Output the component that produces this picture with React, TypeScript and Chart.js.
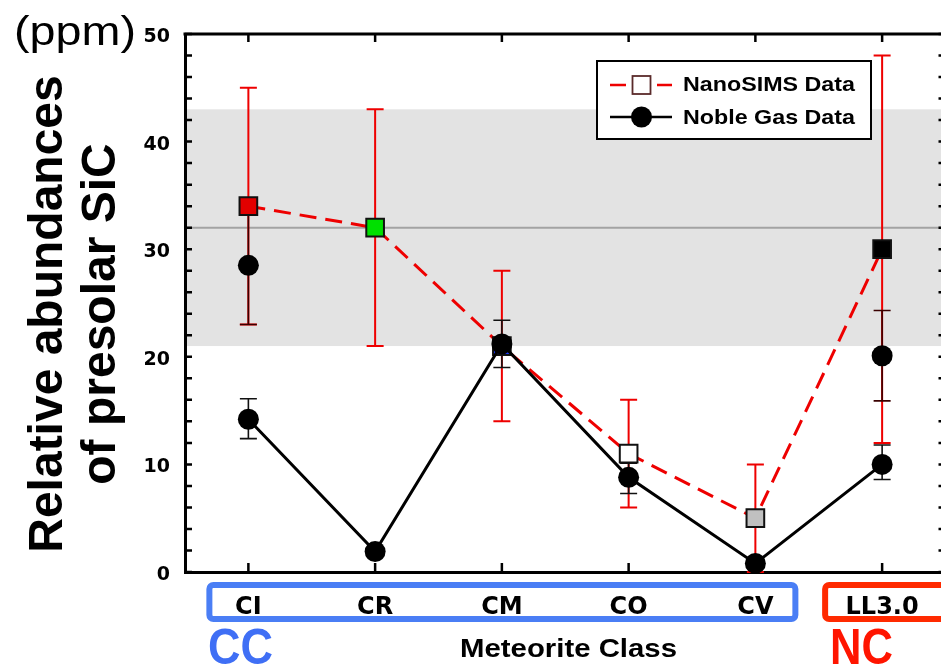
import React, { useEffect, useRef } from 'react';
import { Chart, registerables } from 'chart.js';

Chart.register(...registerables);

// ---- data ----
const categories = ['CI', 'CR', 'CM', 'CO', 'CV', 'LL3.0'];
const nanoValues = [34, 32, 21, 11, 5, 30];
const nanoErrHigh = [45, 43, 28, 16, 10, 48];
const nanoErrLow = [23, 21, 14, 6, 0, 12];
const nanoColors = ['#e30000', '#00e000', '#1e3cff', '#ffffff', '#c0c0c0', '#000000'];
const nobleValues = [14.2, 1.9, 21.2, 8.8, 0.8, 10];
const nobleErrHigh = [16.1, null, 23.4, 10.1, null, 11.8];
const nobleErrLow = [12.4, null, 19.0, 7.3, null, 8.6];
const nobleExtraValues = [28.5, null, null, null, null, 20.1];
const nobleExtraErrHigh = [34, null, null, null, null, 24.3];
const nobleExtraErrLow = [23, null, null, null, null, 15.9];
const bandLow = 21;
const bandHigh = 43;
const bandMean = 32;
const yMin = 0;
const yMax = 50;
const yStep = 10;
const yMinorStep = 2;

const ARIAL = '"Liberation Sans", Arial, Helvetica, sans-serif';
const RED = '#ee0000';

function fitText(ctx: CanvasRenderingContext2D, text: string, x: number, y: number, font: string, width: number, align: string, color: string) {
  ctx.save();
  ctx.font = font;
  ctx.fillStyle = color;
  ctx.textBaseline = 'alphabetic';
  ctx.textAlign = 'left';
  const w = ctx.measureText(text).width;
  const sx = width / w;
  const left = align === 'center' ? x - width / 2 : x;
  ctx.translate(left, y);
  ctx.scale(sx, 1);
  ctx.fillText(text, 0, 0);
  ctx.restore();
}

function drawErr(ctx: CanvasRenderingContext2D, xs: any, ys: any, i: number, hi: number | null, lo: number | null, color: string, lw: number, half: number) {
  if (hi == null || lo == null) return;
  const x = xs.getPixelForValue(i);
  const y1 = ys.getPixelForValue(hi);
  const y2 = ys.getPixelForValue(lo);
  ctx.save();
  ctx.strokeStyle = color;
  ctx.lineWidth = lw;
  ctx.beginPath();
  ctx.moveTo(x, y1);
  ctx.lineTo(x, y2);
  ctx.moveTo(x - half, y1);
  ctx.lineTo(x + half, y1);
  ctx.moveTo(x - half, y2);
  ctx.lineTo(x + half, y2);
  ctx.stroke();
  ctx.restore();
}

const decorPlugin = {
  id: 'decor',
  beforeDraw(chart: any) {
    const { ctx, chartArea, scales } = chart;
    const ys = scales.y;
    ctx.save();
    ctx.fillStyle = '#e3e3e3';
    const t = ys.getPixelForValue(bandHigh);
    const b = ys.getPixelForValue(bandLow);
    ctx.fillRect(chartArea.left, t, chartArea.right - chartArea.left, b - t);
    ctx.strokeStyle = '#a3a3a3';
    ctx.lineWidth = 2;
    const m = ys.getPixelForValue(bandMean);
    ctx.beginPath();
    ctx.moveTo(chartArea.left, m);
    ctx.lineTo(chartArea.right, m);
    ctx.stroke();
    ctx.restore();
  },
  beforeDatasetsDraw(chart: any) {
    const { ctx, scales } = chart;
    const xs = scales.x;
    const ys = scales.y;
    for (let i = 0; i < categories.length; i++) {
      drawErr(ctx, xs, ys, i, nanoErrHigh[i], nanoErrLow[i], RED, 2, 8.5);
    }
    for (let i = 0; i < categories.length; i++) {
      drawErr(ctx, xs, ys, i, nobleErrHigh[i], nobleErrLow[i], '#111', 1.6, 8.5);
      drawErr(ctx, xs, ys, i, nobleExtraErrHigh[i], nobleExtraErrLow[i], '#3a0000', 1.6, 8.5);
    }
  },
  afterDraw(chart: any) {
    const { ctx, chartArea, scales } = chart;
    const xs = scales.x;
    const ys = scales.y;
    ctx.save();
    // frame top and right
    ctx.strokeStyle = '#000';
    ctx.lineWidth = 3;
    ctx.beginPath();
    ctx.moveTo(chartArea.left - 1.5, chartArea.top);
    ctx.lineTo(chartArea.right, chartArea.top);
    ctx.lineTo(chartArea.right, chartArea.bottom);
    ctx.stroke();
    // inner ticks
    ctx.lineWidth = 2.5;
    ctx.beginPath();
    for (let v = yMin; v <= yMax; v += yMinorStep) {
      const y = ys.getPixelForValue(v);
      ctx.moveTo(chartArea.left, y);
      ctx.lineTo(chartArea.left + 7, y);
      ctx.moveTo(chartArea.right, y);
      ctx.lineTo(chartArea.right - 7, y);
    }
    for (let i = 0; i < categories.length; i++) {
      const x = xs.getPixelForValue(i);
      ctx.moveTo(x, chartArea.bottom);
      ctx.lineTo(x, chartArea.bottom - 9);
      ctx.moveTo(x, chartArea.top);
      ctx.lineTo(x, chartArea.top + 8);
    }
    ctx.stroke();

    // category boxes
    ctx.lineWidth = 6;
    ctx.strokeStyle = '#4a7ef5';
    const bl = xs.getPixelForValue(0) - 39;
    const br = xs.getPixelForValue(4) + 40;
    ctx.beginPath();
    ctx.roundRect(bl, 585, br - bl, 34, 4);
    ctx.stroke();
    ctx.strokeStyle = '#ff2a00';
    const rl = xs.getPixelForValue(5) - 57;
    ctx.beginPath();
    ctx.roundRect(rl, 585, 160, 34, 4);
    ctx.stroke();

    // texts
    fitText(ctx, 'CC', 208, 664, 'bold 50px ' + ARIAL, 65, 'left', '#3f6ff5');
    fitText(ctx, 'NC', 830, 664, 'bold 50px ' + ARIAL, 63, 'left', '#ff1500');
    fitText(ctx, 'Meteorite Class', 568.5, 657, 'bold 26px ' + ARIAL, 217, 'center', '#000');
    fitText(ctx, '(ppm)', 14, 45, '40px ' + ARIAL, 122, 'left', '#000');

    // y title (rotated)
    ctx.save();
    ctx.translate(0, 314);
    ctx.rotate(-Math.PI / 2);
    ctx.font = 'bold 48px ' + ARIAL;
    ctx.fillStyle = '#000';
    ctx.textAlign = 'center';
    ctx.textBaseline = 'alphabetic';
    ctx.fillText('Relative abundances', 0, 62);
    ctx.fillText('of presolar SiC', 0, 115);
    ctx.restore();

    // legend
    ctx.fillStyle = '#fff';
    ctx.fillRect(597, 61, 274, 78);
    ctx.strokeStyle = '#000';
    ctx.lineWidth = 2;
    ctx.strokeRect(597, 61, 274, 78);
    // row 1
    ctx.strokeStyle = RED;
    ctx.lineWidth = 2.5;
    ctx.beginPath();
    ctx.moveTo(610, 85);
    ctx.lineTo(626, 85);
    ctx.moveTo(657, 85);
    ctx.lineTo(672, 85);
    ctx.stroke();
    ctx.fillStyle = '#fff';
    ctx.fillRect(632.5, 76, 18, 18);
    ctx.strokeStyle = '#5a2a2a';
    ctx.lineWidth = 1.8;
    ctx.strokeRect(632.5, 76, 18, 18);
    // row 2
    ctx.strokeStyle = '#000';
    ctx.lineWidth = 2.5;
    ctx.beginPath();
    ctx.moveTo(610, 117);
    ctx.lineTo(672, 117);
    ctx.stroke();
    ctx.fillStyle = '#000';
    ctx.beginPath();
    ctx.arc(641.5, 117, 10.5, 0, Math.PI * 2);
    ctx.fill();
    fitText(ctx, 'NanoSIMS Data', 683, 91, 'bold 21px ' + ARIAL, 172, 'left', '#000');
    fitText(ctx, 'Noble Gas Data', 683, 124, 'bold 21px ' + ARIAL, 172, 'left', '#000');
    ctx.restore();
  },
};

export default function App() {
  const ref = useRef<HTMLCanvasElement | null>(null);
  useEffect(() => {
    const canvas = ref.current;
    if (!canvas) return;
    const chart = new Chart(canvas, {
      type: 'line',
      data: {
        labels: categories,
        datasets: [
          {
            label: 'Noble Gas Data',
            data: nobleValues,
            borderColor: '#000',
            borderWidth: 3,
            pointRadius: 10.5,
            pointHoverRadius: 10.5,
            pointBackgroundColor: '#000',
            pointBorderWidth: 0,
            order: 0,
            clip: false,
          } as any,
          {
            label: 'Noble Gas Data (2)',
            data: nobleExtraValues,
            showLine: false,
            borderColor: '#000',
            pointRadius: 10.5,
            pointHoverRadius: 10.5,
            pointBackgroundColor: '#000',
            pointBorderWidth: 0,
            order: 1,
            clip: false,
          } as any,
          {
            label: 'NanoSIMS Data',
            data: nanoValues,
            borderColor: RED,
            borderWidth: 3,
            borderDash: [17, 9],
            pointStyle: 'rect',
            pointRadius: 12.5,
            pointHoverRadius: 12.5,
            pointBackgroundColor: nanoColors,
            pointBorderColor: '#111',
            pointBorderWidth: 2,
            order: 2,
            clip: false,
          } as any,
        ],
      },
      options: {
        animation: false,
        responsive: false,
        events: [],
        layout: { padding: { left: 0, top: 34, right: 7, bottom: 0 } },
        plugins: {
          legend: { display: false },
          tooltip: { enabled: false },
        },
        scales: {
          x: {
            type: 'category',
            offset: true,
            grid: { display: false, drawTicks: false },
            border: { display: true, width: 3, color: '#000' },
            ticks: {
              color: '#000',
              padding: 21,
              maxRotation: 0,
              autoSkip: false,
              font: { family: 'DejaVu Sans', weight: 'bold', size: 24 },
            },
            afterFit: (s: any) => { s.height = 94; },
          },
          y: {
            min: yMin,
            max: yMax,
            grid: { display: false, drawTicks: false },
            border: { display: true, width: 3, color: '#000' },
            ticks: {
              stepSize: yStep,
              color: '#000',
              padding: 15,
              labelOffset: 3,
              font: { family: 'DejaVu Sans', weight: 'bold', size: 19 },
            },
            afterFit: (s: any) => { s.width = 185; },
          },
        },
      } as any,
      plugins: [decorPlugin],
    });
    return () => chart.destroy();
  }, []);
  return (
    <div style={{ position: 'fixed', left: 0, top: 0, width: 941, height: 666, overflow: 'hidden', background: '#fff' }}>
      <canvas ref={ref} width={960} height={666} style={{ display: 'block' }} />
    </div>
  );
}
